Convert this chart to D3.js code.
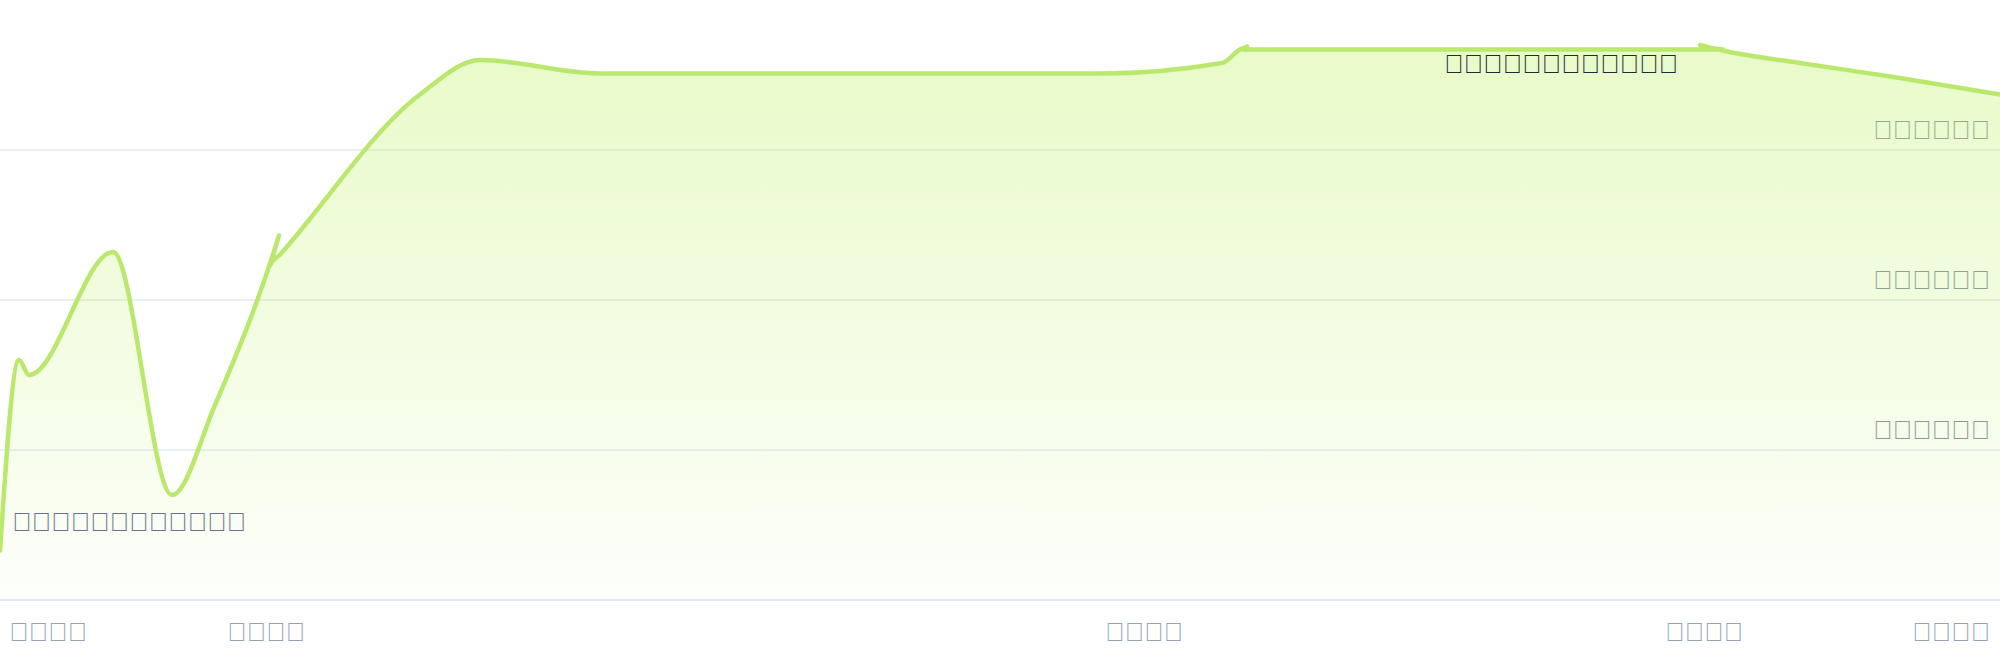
<!DOCTYPE html>
<html>
<head>
<meta charset="utf-8">
<script src="https://cdn.jsdelivr.net/npm/d3@7"></script>
<style>
  body { margin: 0; background: #fff; }
  text { font-family: "Liberation Sans", sans-serif; }
</style>
</head>
<body>
<svg id="chart" width="2000" height="660"></svg>
<script>
// data (the labels in the source render as missing-glyph boxes, kept as such)
const days = [0, 9.5, 14.5, 56.5, 86, 107.5, 139.5, 134.5, 140.5, 210, 240, 300, 550, 611, 620, 623.5, 622, 861.5, 850, 862.5, 900, 950, 1000];
const values = [33, 160, 150, 232, 70, 130, 243, 222, 231, 337, 360, 351, 351, 358, 367, 369, 367, 367, 370, 366, 358, 348, 337];
const xTicks = [0, 133, 572, 852, 1000];
const xTickLabels = ["\uE000\uE001\uE002\uE003", "\uE004\uE005\uE006\uE007", "\uE008\uE009\uE00A\uE00B", "\uE00C\uE00D\uE00E\uE00F", "\uE010\uE011\uE012\uE013"];
const yTicks = [100, 200, 300];
const yTickLabels = ["\uE020\uE021\uE022\uE023\uE024\uE025", "\uE026\uE027\uE028\uE029\uE02A\uE02B", "\uE02C\uE02D\uE02E\uE02F\uE030\uE031"];
const minLabel = "\uE040\uE041\uE042\uE043\uE044\uE045\uE046\uE047\uE048\uE049\uE04A\uE04B";
const maxLabel = "\uE050\uE051\uE052\uE053\uE054\uE055\uE056\uE057\uE058\uE059\uE05A\uE05B";

const width = 2000, height = 660;
const margin = {top: 0, right: 0, bottom: 60, left: 0};

const data = days.map((d, i) => ({day: d, value: values[i]}));

const x = d3.scaleLinear()
	.domain([0, 1000])
	.range([margin.left, width - margin.right]);

const y = d3.scaleLinear()
	.domain([0, 400])
	.range([height - margin.bottom, margin.top]);

const svg = d3.select("#chart");

const defs = svg.append("defs");
const grad = defs.append("linearGradient")
	.attr("id", "fill")
	.attr("gradientUnits", "userSpaceOnUse")
	.attr("x1", 0).attr("x2", 0)
	.attr("y1", y(400)).attr("y2", y(0));
grad.append("stop").attr("offset", 0).attr("stop-color", "#bef264").attr("stop-opacity", 0.38);
grad.append("stop").attr("offset", 1).attr("stop-color", "#bef264").attr("stop-opacity", 0.03);

// grid
svg.append("g")
	.selectAll("line")
	.data(yTicks)
	.join("line")
	.attr("x1", 0).attr("x2", width)
	.attr("y1", d => y(d)).attr("y2", d => y(d))
	.attr("stroke", "#e2e8f0")
	.attr("stroke-width", 1.5);

svg.append("g")
	.selectAll("text")
	.data(yTicks)
	.join("text")
	.attr("x", width - 10)
	.attr("y", d => y(d) - 11)
	.attr("text-anchor", "end")
	.attr("font-size", 26)
	.attr("fill", "#7f8ea6")
	.text((d, i) => yTickLabels[i]);

const area = d3.area()
	.curve(d3.curveMonotoneX)
	.x(d => x(d.day))
	.y0(y(0))
	.y1(d => y(d.value));

const line = d3.line()
	.curve(d3.curveMonotoneX)
	.x(d => x(d.day))
	.y(d => y(d.value));

svg.append("path")
	.datum(data)
	.attr("fill", "url(#fill)")
	.attr("d", area);

svg.append("path")
	.datum(data)
	.attr("fill", "none")
	.attr("stroke", "#b9e86c")
	.attr("stroke-width", 4.5)
	.attr("stroke-linejoin", "round")
	.attr("stroke-linecap", "round")
	.attr("d", line);

// baseline
svg.append("line")
	.attr("x1", 0).attr("x2", width)
	.attr("y1", y(0)).attr("y2", y(0))
	.attr("stroke", "#e2e8f0")
	.attr("stroke-width", 2);

// x labels
svg.append("g")
	.selectAll("text")
	.data(xTicks)
	.join("text")
	.attr("x", (d, i) => i === 0 ? x(d) + 9 : i === xTicks.length - 1 ? x(d) - 10 : x(d))
	.attr("y", height - 19)
	.attr("text-anchor", (d, i) => i === 0 ? "start" : i === xTicks.length - 1 ? "end" : "middle")
	.attr("font-size", 26)
	.attr("fill", "#94a3b8")
	.text((d, i) => xTickLabels[i]);

// min / max notes
const iMin = d3.minIndex(data, d => d.value);
const iMax = d3.maxIndex(data, d => d.value);

svg.append("text")
	.attr("x", x(data[iMin].day) + 12)
	.attr("y", y(data[iMin].value) - 20)
	.attr("font-size", 26)
	.attr("fill", "#64748b")
	.text(minLabel);

svg.append("text")
	.attr("x", x(data[iMax].day) - 22)
	.attr("y", y(data[iMax].value) + 28)
	.attr("text-anchor", "end")
	.attr("font-size", 26)
	.attr("fill", "#1e293b")
	.text(maxLabel);
</script>
</body>
</html>
